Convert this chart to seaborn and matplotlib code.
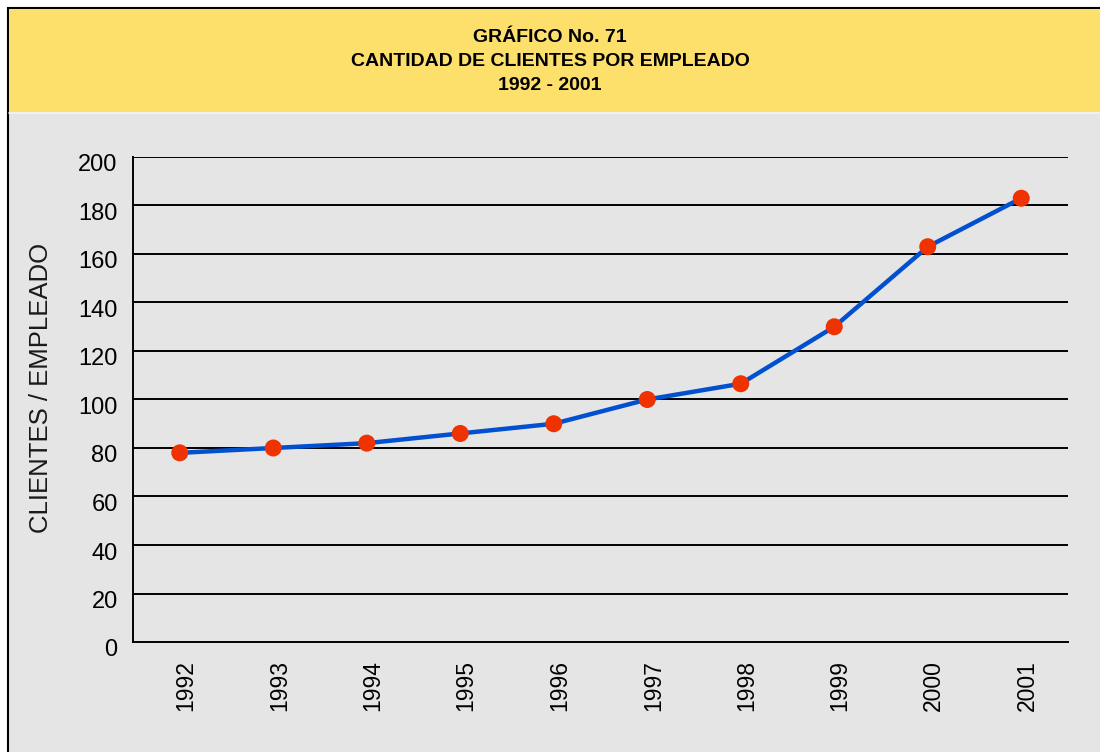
import numpy as np
import pandas as pd
import matplotlib
matplotlib.use("Agg")
import matplotlib.pyplot as plt
import matplotlib.transforms as mtransforms
from matplotlib.patches import Rectangle
import seaborn as sns

years = ["1992", "1993", "1994", "1995", "1996", "1997", "1998", "1999", "2000", "2001"]
clientes = [78, 80, 82, 86, 90, 100, 106.5, 130, 163, 183]
y_ticks = [0, 20, 40, 60, 80, 100, 120, 140, 160, 180, 200]

title_lines = ["GRÁFICO No. 71", "CANTIDAD DE CLIENTES POR EMPLEADO", "1992 - 2001"]
y_label = "CLIENTES / EMPLEADO"

df = pd.DataFrame({"anio": years, "clientes": clientes})

sns.set_style("white")
plt.rcParams["font.family"] = ["Liberation Sans", "DejaVu Sans"]
plt.rcParams["text.color"] = "black"
plt.rcParams["axes.labelcolor"] = "black"
plt.rcParams["xtick.color"] = "black"
plt.rcParams["ytick.color"] = "black"

fig = plt.figure(figsize=(11, 7.52), dpi=100)
fig.patch.set_facecolor("white")

# gray panel + yellow header band with black frame
W, H = 1100, 752
fig.patches.append(Rectangle((8 / W, -0.05), 1, 1.05 - 8 / H, transform=fig.transFigure,
                             facecolor="#e5e5e5", edgecolor="black", lw=1.5, zorder=-3))
fig.patches.append(Rectangle((9 / W, 1 - 112 / H), 1, 103 / H, transform=fig.transFigure,
                             facecolor="#fde06c", edgecolor="none", zorder=-2))
fig.add_artist(plt.Line2D([9 / W, 1], [1 - 112.5 / H] * 2, color="#f4f4f4", lw=1.2,
                          zorder=-1))

for i, t in enumerate(title_lines):
    fig.text(0.5, 1 - (38 + 24 * i) / H, t, ha="center", va="center",
             fontsize=14, fontweight="bold", color="black")

ax = fig.add_axes([133 / W, 1 - 642 / H, 935 / W, 485 / H])
ax.set_facecolor("none")

sns.lineplot(data=df, x="anio", y="clientes", ax=ax, color="#0050d0", lw=3.2,
             sort=False, zorder=3)
sns.scatterplot(data=df, x="anio", y="clientes", ax=ax, color="#ee3300", s=150,
                edgecolor="none", zorder=4)

ax.set_xlim(-0.5, len(years) - 0.5)
ax.set_ylim(0, 200)
ax.set_yticks(y_ticks)
ax.set_yticklabels([str(v) for v in y_ticks], fontsize=17)
ax.set_xticks(range(len(years)))
ax.set_xticklabels(years, rotation=90, fontsize=16.5)
ax.tick_params(axis="x", length=0, pad=13)
ax.tick_params(axis="y", length=0, pad=11)

# year labels sit a little right of the category centre, y labels a bit low
shift_x = mtransforms.ScaledTranslation(6 / 100, 0, fig.dpi_scale_trans)
for lbl in ax.get_xticklabels():
    lbl.set_transform(lbl.get_transform() + shift_x)
shift_y = mtransforms.ScaledTranslation(0, -6 / 100, fig.dpi_scale_trans)
for lbl in ax.get_yticklabels():
    lbl.set_transform(lbl.get_transform() + shift_y)

# inward separator ticks between categories
ax.set_xticks(np.arange(0.5, len(years)), minor=True)
ax.tick_params(axis="x", which="minor", direction="in", length=12, width=1.3, color="black")

for v in y_ticks[1:]:
    ax.axhline(v, color="black", lw=1.4, zorder=1)

for s in ["top", "right"]:
    ax.spines[s].set_visible(False)
for s in ["left", "bottom"]:
    ax.spines[s].set_color("black")
    ax.spines[s].set_linewidth(1.4)

ax.set_xlabel("")
ax.set_ylabel(y_label, fontsize=18.5, labelpad=18, y=0.524, color="#1a1a1a")

fig.savefig("out.png", dpi=100)
